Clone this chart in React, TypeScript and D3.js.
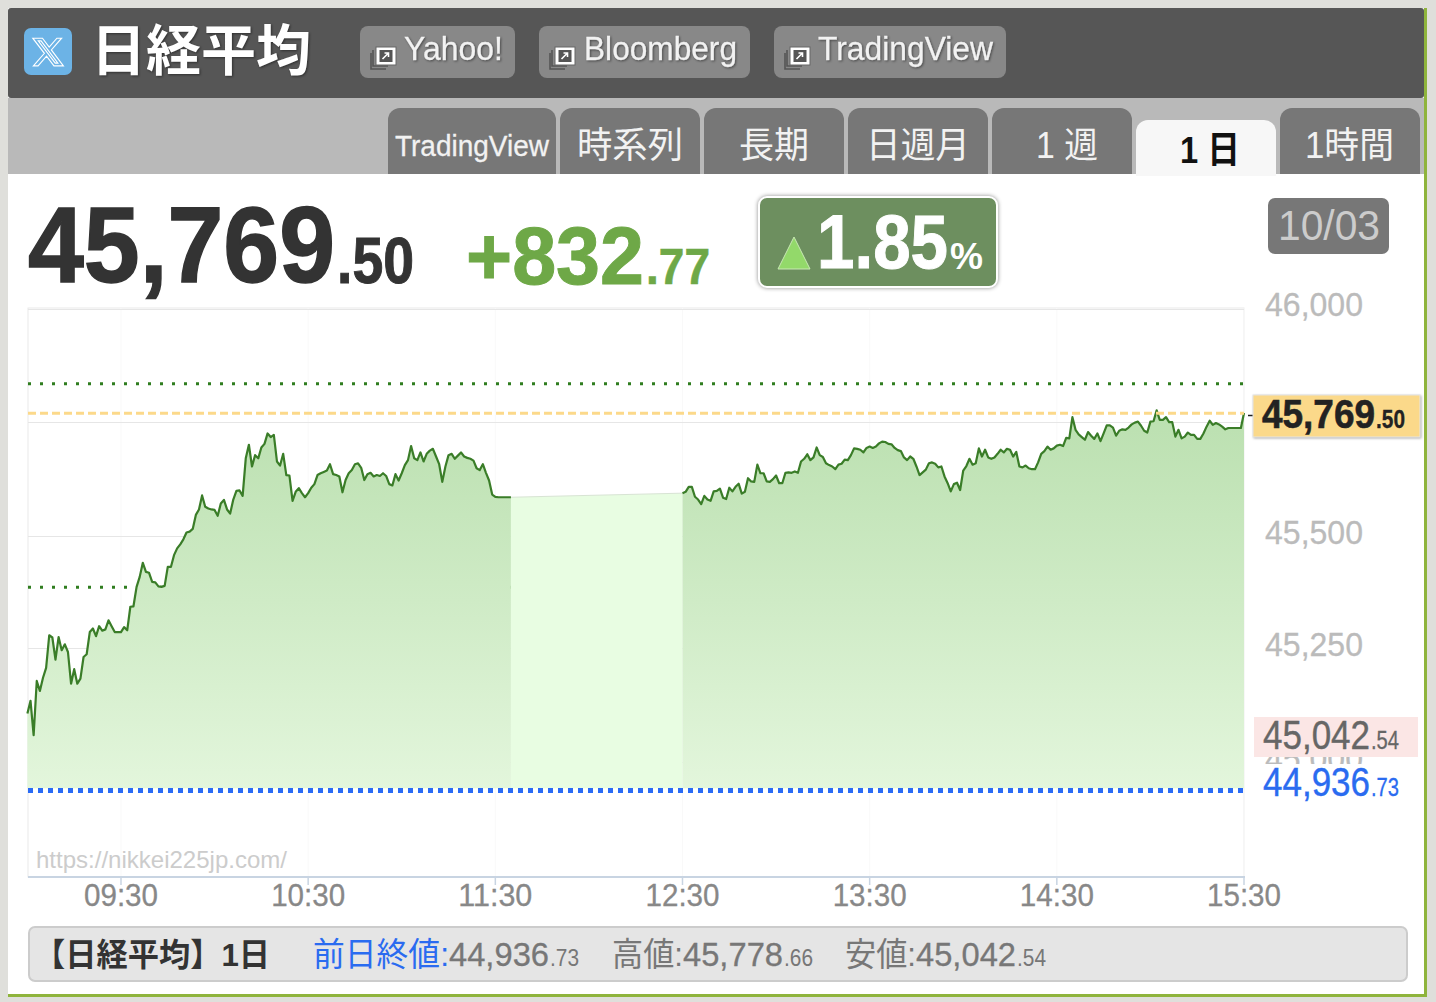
import React from "react";
import * as d3 from "d3";

// minutes after 09:00, one value per minute
const morningStart = 0;
const morningValues = [
45106,45134,45058,45178,45156,45185,45207,45279,45274,45225,45275,45246,45259,45242,45172,45204,45172,45183,45231,45237,
45286,45294,45277,45299,45289,45292,45312,45299,45286,45286,45286,45297,45290,45342,45343,45386,45408,45439,45419,45417,
45397,45396,45387,45386,45388,45430,45430,45456,45471,45480,45491,45506,45508,45514,45545,45557,45588,45563,45559,45557,
45556,45543,45570,45578,45557,45548,45579,45598,45599,45587,45670,45700,45652,45677,45670,45694,45702,45725,45717,45722,
45663,45654,45680,45633,45632,45576,45596,45604,45593,45584,45593,45605,45613,45633,45637,45640,45643,45657,45635,45633,
45630,45595,45622,45637,45644,45657,45659,45649,45622,45635,45638,45630,45633,45631,45637,45631,45613,45610,45635,45621,
45637,45655,45666,45697,45670,45666,45683,45663,45680,45687,45691,45674,45657,45618,45652,45677,45680,45669,45676,45683,
45674,45671,45669,45665,45648,45644,45657,45638,45621,45590,45585,45584,45584,45584,45584,45584];
const afternoonStart = 210;
const afternoonValues = [
45593,45596,45607,45607,45585,45579,45569,45587,45579,45576,45597,45598,45603,45583,45580,45605,45597,45607,45614,45592,
45596,45626,45619,45618,45656,45637,45637,45619,45618,45624,45632,45615,45615,45638,45639,45638,45641,45638,45663,45669,
45679,45666,45672,45694,45677,45673,45659,45655,45652,45646,45656,45658,45667,45666,45677,45692,45691,45689,45683,45693,
45696,45693,45696,45703,45707,45706,45702,45701,45693,45688,45686,45672,45666,45674,45669,45652,45633,45639,45645,45659,
45661,45658,45650,45652,45630,45615,45597,45613,45616,45600,45643,45653,45669,45656,45659,45692,45674,45689,45672,45669,
45672,45680,45689,45683,45691,45689,45674,45684,45652,45650,45654,45648,45646,45646,45661,45680,45686,45696,45689,45692,
45698,45700,45697,45715,45714,45761,45733,45723,45717,45711,45728,45720,45713,45725,45708,45725,45743,45743,45738,45720,
45731,45734,45733,45738,45745,45749,45751,45742,45731,45727,45751,45752,45776,45755,45755,45761,45750,45750,45718,45733,
45714,45718,45727,45722,45722,45713,45713,45725,45740,45753,45744,45748,45745,45740,45734,45737,45737,45737,45737,45737,45770];

const timeTickMinutes = [30, 90, 150, 210, 270, 330, 390];
const timeTickLabels = ["09:30", "10:30", "11:30", "12:30", "13:30", "14:30", "15:30"];
const gridValues = [46000, 45750, 45500, 45250, 45000];
const priceLabels = ["46,000", "45,500", "45,250", "45,000"];
const priceLabelValues = [46000, 45500, 45250, 45000];
const tabs = ["時系列", "長期", "日週月", "1 週"];

const currentValue = 45769.5;
const prevClose = 44936.73;
const upperBand = 45835;
const lowerBand = 45385;

const x = d3.scaleLinear().domain([0, 390]).range([27.4, 1244]);
const y = d3.scaleLinear().domain([45000, 46000]).range([761.5, 309]);

type P = { m: number; v: number };
const morning: P[] = morningValues.map((v, i) => ({ m: morningStart + i, v }));
const afternoon: P[] = afternoonValues.map((v, i) => ({ m: afternoonStart + i, v }));
const lunch: P[] = [morning[morning.length - 1], afternoon[0]];

const lineGen = d3.line<P>().x((d) => x(d.m)).y((d) => y(d.v));
const areaGen = d3.area<P>().x((d) => x(d.m)).y0(y(prevClose) - 2).y1((d) => y(d.v));

const FONT = '"Liberation Sans","Noto Sans CJK JP",sans-serif';

function T(p: { x: number; y: number; w?: number; s: number; c: string; b?: boolean; a?: string; t: string; sh?: boolean; st?: number }) {
  return (
    <text
      x={p.x}
      y={p.y}
      fontSize={p.s}
      fill={p.c}
      fontWeight={p.b ? 700 : 400}
      textAnchor={p.a ?? "start"}
      textLength={p.w}
      lengthAdjust={p.w ? "spacingAndGlyphs" : undefined}
      stroke={p.st ? p.c : undefined}
      strokeWidth={p.st}
      style={p.sh ? { filter: "drop-shadow(1px 1px 1px rgba(0,0,0,.45))" } : undefined}
    >
      {p.t}
    </text>
  );
}

function ExtIcon({ px, py }: { px: number; py: number }) {
  return (
    <g transform={`translate(${px},${py})`}>
      <path d="M2 6V22H17" fill="none" stroke="#555" strokeWidth="1.6" />
      <path d="M0 9V25H15" fill="none" stroke="#555" strokeWidth="1.6" />
      <rect x="5" y="3" width="20" height="18" fill="#fff" stroke="#666" strokeWidth="1" />
      <rect x="8.5" y="6" width="13" height="12" fill="#555" />
      <path d="M11.5 15L17.5 9M13.5 9H17.5V13" fill="none" stroke="#fff" strokeWidth="1.6" />
    </g>
  );
}

function HeaderButton({ bx, bw, label, tx, tw }: { bx: number; bw: number; label: string; tx: number; tw: number }) {
  return (
    <g>
      <rect x={bx} y={26} width={bw} height={52} rx={8} fill="#888" />
      <ExtIcon px={bx + 11} py={44} />
      <T x={tx} y={60} w={tw} s={33} c="#f2f2f2" t={label} sh st={0.3} />
    </g>
  );
}

function Tab({ tx, label, lx, lw, s }: { tx: number; label: string; lx: number; lw: number; s: number }) {
  return (
    <g>
      <path d={`M${tx} 174V120a12 12 0 0 1 12-12H${tx + 128}a12 12 0 0 1 12 12V174Z`} fill="#777" />
      <T x={lx} y={158} w={lw} s={s} c="#f2f2f2" t={label} />
    </g>
  );
}

export default function App() {
  const plotL = 28;
  const plotR = 1244;
  const plotT = 308;
  const plotB = 877;
  return (
    <svg
      width={1436}
      height={1002}
      viewBox="0 0 1436 1002"
      style={{ position: "absolute", left: 0, top: 0, fontFamily: FONT }}
    >
      <defs>
        <linearGradient id="fillG" gradientUnits="userSpaceOnUse" x1="0" y1="412" x2="0" y2="790">
          <stop offset="0" stopColor="#bbe0b0" />
          <stop offset="1" stopColor="#e3f6dc" />
        </linearGradient>
      </defs>
      <rect width={1436} height={1002} fill="#dfdfdb" />
      {/* frame */}
      <rect x={8} y={8} width={1419} height={989} fill="#8fb43c" />
      <rect x={8} y={8} width={1416} height={986} fill="#fff" />
      <rect x={8} y={98} width={1416} height={76} fill="#b9b9b9" />
      <rect x={8} y={8} width={1416} height={90} rx={3} fill="#565656" />

      {/* header */}
      <rect x={24} y={28} width={48} height={47} rx={7} fill="#6cb3e6" />
      <path
        transform="translate(31,35) scale(1.42)"
        d="M18.244 2.25h3.308l-7.227 8.26 8.502 11.24H16.17l-5.214-6.817L4.99 21.75H1.68l7.73-8.835L1.254 2.25H8.08l4.713 6.231zm-1.161 17.52h1.833L7.084 4.126H5.117z"
        fill="none"
        stroke="#fff"
        strokeWidth={0.8}
      />
      <T x={91} y={70} w={220} s={55} c="#fff" b t="日経平均" sh />
      <HeaderButton bx={360} bw={155} label="Yahoo!" tx={404} tw={99} />
      <HeaderButton bx={539} bw={211} label="Bloomberg" tx={584} tw={153} />
      <HeaderButton bx={774} bw={232} label="TradingView" tx={818} tw={175} />

      {/* tabs */}
      <path d="M388 174V120a12 12 0 0 1 12-12H544a12 12 0 0 1 12 12V174Z" fill="#777" />
      <T x={395} y={156} w={154} s={30} c="#f2f2f2" t="TradingView" st={0.3} />
      <Tab tx={560} label={tabs[0]} lx={577} lw={106} s={36} />
      <Tab tx={704} label={tabs[1]} lx={739} lw={70} s={36} />
      <Tab tx={848} label={tabs[2]} lx={866} lw={104} s={36} />
      <Tab tx={992} label={tabs[3]} lx={1036} lw={62} s={36} />
      <path d="M1136 176V132a12 12 0 0 1 12-12H1264a12 12 0 0 1 12 12V176Z" fill="#f7f7f7" />
      <T x={1180} y={163} w={60} s={37} c="#111" b t="1 日" />
      <Tab tx={1280} label="1時間" lx={1305} lw={89} s={36} />

      {/* headline */}
      <T x={28} y={282} w={307} s={107} c="#333" b t="45,769" st={1.5} />
      <T x={337} y={283} w={77} s={65} c="#333" b t=".50" st={1} />
      <T x={466} y={284} w={178} s={82} c="#6ea847" b t="+832" st={1} />
      <T x={646} y={284} w={64} s={50} c="#6ea847" b t=".77" st={0.6} />
      <rect
        x={759}
        y={197}
        width={238}
        height={90}
        rx={8}
        fill="#6d8f5f"
        stroke="#fff"
        strokeWidth={2}
        style={{ filter: "drop-shadow(0 0 2px rgba(0,0,0,.45))" }}
      />
      <path d="M794 237L810 269H778Z" fill="#93d96a" stroke="#c8e8b4" strokeWidth={1} />
      <T x={817} y={268} w={131} s={76} c="#fff" b t="1.85" st={1} />
      <T x={950} y={269} w={33} s={36} c="#fff" b t="%" />
      <rect x={1268} y={198} width={121} height={56} rx={7} fill="#777" />
      <T x={1278} y={240} w={102} s={42} c="#ccc" t="10/03" />

      {/* plot frame + grid */}
      <rect x={plotL} y={plotT} width={plotR - plotL} height={plotB - plotT} fill="#fff" stroke="#e9e9e9" strokeWidth={1} />
      {timeTickMinutes.map((m) => (
        <line key={m} x1={x(m)} x2={x(m)} y1={plotT} y2={plotB} stroke="#f9f9f9" strokeWidth={1} />
      ))}
      {gridValues.map((v) => {
        const gy = Math.round(y(v) + (v === 45500 ? 0.5 : 0)) + 0.5;
        return <line key={v} x1={plotL} x2={plotR} y1={gy} y2={gy} stroke="#e6e6e6" strokeWidth={1} />;
      })}
      <line x1={plotL} x2={plotR} y1={y(upperBand)} y2={y(upperBand)} stroke="#2f7d1f" strokeWidth={3} strokeDasharray="3 9" />
      <line x1={plotL} x2={plotR} y1={y(lowerBand)} y2={y(lowerBand)} stroke="#2f7d1f" strokeWidth={3} strokeDasharray="3 9" />

      {/* data */}
      <path d={areaGen(lunch) ?? ""} fill="#e8fde2" />
      <path d={lineGen(lunch) ?? ""} fill="none" stroke="#d8e4d4" strokeWidth={1} />
      <path d={areaGen(morning) ?? ""} fill="url(#fillG)" />
      <path d={areaGen(afternoon) ?? ""} fill="url(#fillG)" />
      <path d={lineGen(morning) ?? ""} fill="none" stroke="#3a7d28" strokeWidth={2.2} strokeLinejoin="round" />
      <path d={lineGen(afternoon) ?? ""} fill="none" stroke="#3a7d28" strokeWidth={2.2} strokeLinejoin="round" />

      <line x1={plotL} x2={plotR} y1={y(currentValue)} y2={y(currentValue)} stroke="#fcd98a" strokeWidth={3} strokeDasharray="8 4" />
      <line x1={plotL} x2={plotR} y1={Math.round(y(prevClose)) + 0.5} y2={Math.round(y(prevClose)) + 0.5} stroke="#2a6bf5" strokeWidth={5} strokeDasharray="5 5" />

      {/* x axis */}
      <line x1={plotL} x2={plotR + 1} y1={plotB} y2={plotB} stroke="#c8d4e2" strokeWidth={2} />
      {timeTickMinutes.map((m, i) => (
        <g key={m}>
          <line x1={x(m)} x2={x(m)} y1={plotB} y2={plotB + 8} stroke="#c8d4e2" strokeWidth={1.5} />
          <T x={x(m)} y={906} s={31} c="#888" a="middle" w={74} t={timeTickLabels[i]} st={0.3} />
        </g>
      ))}
      <T x={36} y={868} w={251} s={24} c="#ccc" t="https://nikkei225jp.com/" />

      {/* right labels */}
      {priceLabelValues.map((v, i) => (
        <T key={v} x={1265} y={y(v) + 8 + (v === 46000 ? -1 : v === 45500 ? 1 : 0)} w={98} s={33} c="#bbb" t={priceLabels[i]} st={0.3} />
      ))}
      <rect x={1254} y={717} width={164} height={40} fill="#fbe6e5" />
      <T x={1263} y={749} w={107} s={40} c="#666" t="45,042" st={0.4} />
      <T x={1371} y={749} w={28} s={25} c="#666" t=".54" st={0.3} />
      <rect x={1254} y={764} width={164} height={38} fill="#fff" />
      <T x={1263} y={796} w={107} s={40} c="#2a6bf0" t="44,936" st={0.4} />
      <T x={1371} y={796} w={28} s={25} c="#2a6bf0" t=".73" st={0.3} />
      <line x1={1248} x2={1258} y1={415.5} y2={415.5} stroke="#222" strokeWidth={1.5} />
      <rect x={1253} y={395} width={167} height={42} fill="#fbd98a" stroke="#e4e4e4" strokeWidth={1} style={{ filter: "drop-shadow(1px 1px 1px rgba(0,0,0,.3))" }} />
      <T x={1262} y={428} w={113} s={40} c="#222" b t="45,769" st={0.6} />
      <T x={1376} y={428} w={29} s={25} c="#222" b t=".50" st={0.3} />

      {/* footer */}
      <rect x={29} y={927} width={1378} height={54} rx={6} fill="#e5e5e5" stroke="#ccc" strokeWidth={2} />
      <T x={34} y={966} w={236} s={32} c="#333" b t="【日経平均】1日" />
      <T x={313} y={966} w={136} s={33} c="#2a6bf0" t="前日終値:" />
      <T x={449} y={966} w={100} s={33} c="#777" t="44,936" st={0.3} />
      <T x={550} y={966} w={29} s={24} c="#777" t=".73" />
      <T x={612} y={966} w={71} s={33} c="#777" t="高値:" />
      <T x={683} y={966} w={100} s={33} c="#777" t="45,778" st={0.3} />
      <T x={784} y={966} w={29} s={24} c="#777" t=".66" />
      <T x={845} y={966} w={71} s={33} c="#777" t="安値:" />
      <T x={916} y={966} w={100} s={33} c="#777" t="45,042" st={0.3} />
      <T x={1017} y={966} w={29} s={24} c="#777" t=".54" />
    </svg>
  );
}
